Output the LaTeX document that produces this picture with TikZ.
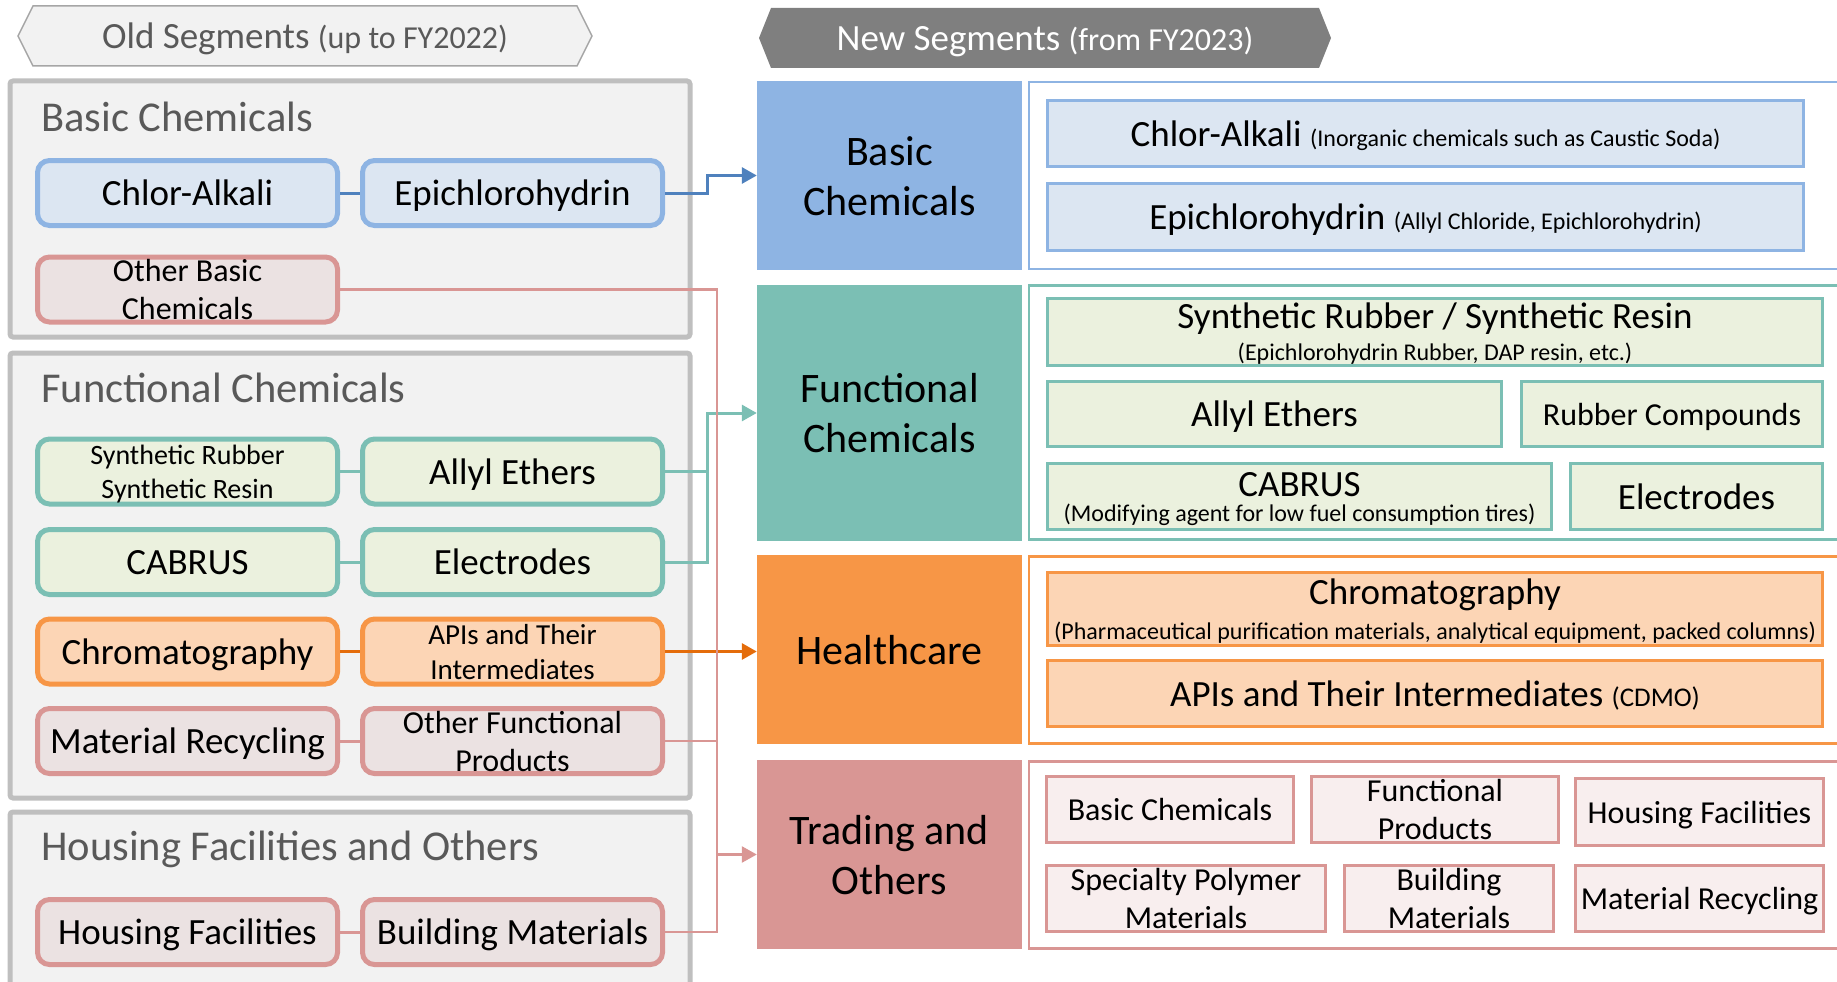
\documentclass[tikz,border=0pt]{standalone}
\usepackage{fontspec}
\setmainfont{Carlito}
\usetikzlibrary{arrows.meta}

\newcommand\fsz[2]{\fontsize{#1}{#2}\selectfont}

\definecolor{bluebd}{HTML}{8EB4E3}
\definecolor{bluefill}{HTML}{DCE6F2}
\definecolor{blueln}{HTML}{4F81BD}
\definecolor{tealbd}{HTML}{7BBFB4}
\definecolor{tealfill}{HTML}{EBF1DE}
\definecolor{tealln}{HTML}{7BBFB4}
\definecolor{orangebd}{HTML}{F79646}
\definecolor{orangefill}{HTML}{FCD5B5}
\definecolor{orangeln}{HTML}{E46C0A}
\definecolor{pinkbd}{HTML}{D99694}
\definecolor{pinkfill}{HTML}{EBE2E2}
\definecolor{pinklight}{HTML}{F8EEEE}
\definecolor{pinkln}{HTML}{D99694}
\definecolor{groupfill}{HTML}{F2F2F2}
\definecolor{groupbd}{HTML}{BFBFBF}
\definecolor{titlegray}{HTML}{595959}
\definecolor{bannerbd}{HTML}{A6A6A6}
\definecolor{newbanner}{HTML}{7F7F7F}

\begin{document}
\begin{tikzpicture}
	 [x=1pt,y=-1pt,
	  fs/.style 2 args={font=\fsz{#1}{#2},text height={0.7*#1pt},text depth=0pt},
	  fs2/.style 2 args={font=\fsz{#1}{#2},text height={0.7*#1pt+#2pt},text depth=0pt},
	  every node/.style={inner sep=0pt,align=center,fs={37}{44}},
	  grp/.style={draw=groupbd,fill=groupfill,line width=5pt,rounded corners=3pt,minimum width=680pt},
	  grptitle/.style={text=titlegray,fs={42.5}{50},anchor=base west},
	  oldbox/.style={draw=#1bd,fill=#1fill,line width=5pt,rounded corners=12pt,minimum width=300pt,minimum height=65pt},
	  seglabel/.style={fill=#1bd,minimum width=265pt,fs={42}{50}},
	  segframe/.style={draw=#1bd,fill=white,line width=2.5pt,minimum width=870pt},
	  newbox/.style={draw=#1bd,fill=#1fill,line width=3pt,minimum height=66pt},
	  conn/.style={draw=#1,line width=3pt},
	  arrowhd/.style={-{Triangle[length=15pt,width=16pt]}}]

	\clip (0,0) rectangle (1837,982);

	% headings
	\draw[draw=bannerbd,fill=groupfill,line width=1.5pt] (18,36) -- (33,6) -- (577,6) -- (592,36) -- (577,66) -- (33,66) -- cycle;
	\node (oldHead)[text=titlegray] at (305,36) {Old Segments {\fsz{32}{36}(up to FY2022)}};
	\fill[newbanner] (759,38) -- (771,8) -- (1319,8) -- (1331,38) -- (1319,68) -- (771,68) -- cycle;
	\node (newHead)[text=white] at (1045,38) {New Segments {\fsz{32}{36}(from FY2023)}};

	% old segments
	  \node (gBasic)[grp,minimum height=256pt] at (350,209) {};
	  \node (gFunc)[grp,minimum height=445pt] at (350,575.5) {};
	  \node (gHouse)[grp,minimum height=200pt] at (350,912) {};

	  \node (tBasicOld)[grptitle] at (41,131) {Basic Chemicals};
	  \node (tFuncOld)[grptitle] at (41,402) {Functional Chemicals};
	  \node (tHouseOld)[grptitle] at (41,860) {Housing Facilities and Others};

	  \node (oAlkali)[oldbox=blue] at (187.5,193) {Chlor-Alkali};
	  \node (oEpi)[oldbox=blue] at (512.5,193) {Epichlorohydrin};
	  \node (oOtherB)[oldbox=pink,fs2={32}{38}] at (187.5,289.5) {Other Basic\\Chemicals};
	  \node (oSynth)[oldbox=teal,fs2={28}{34}] at (187.5,471.5) {Synthetic Rubber\\Synthetic Resin};
	  \node (oAllyl)[oldbox=teal] at (512.5,471.5) {Allyl Ethers};
	  \node (oCabrus)[oldbox=teal] at (187.5,562) {CABRUS};
	  \node (oElec)[oldbox=teal] at (512.5,562) {Electrodes};
	  \node (oChrom)[oldbox=orange] at (187.5,651.5) {Chromatography};
	  \node (oApi)[oldbox=orange,fs2={29}{35}] at (512.5,651.5) {APIs and Their\\Intermediates};
	  \node (oRecyc)[oldbox=pink] at (187.5,741) {Material Recycling};
	  \node (oOtherF)[oldbox=pink,fs2={32}{38}] at (512.5,741) {Other Functional\\Products};
	  \node (oHouse)[oldbox=pink] at (187.5,932) {Housing Facilities};
	  \node (oBuild)[oldbox=pink] at (512.5,932) {Building Materials};

	\foreach \from/\to/\col in {oAlkali/oEpi/blueln,oSynth/oAllyl/tealln,oCabrus/oElec/tealln,oChrom/oApi/orangeln,oRecyc/oOtherF/pinkln,oHouse/oBuild/pinkln}
    \draw[conn=\col] (\from) -- (\to);

	% new segments
	  \node (nBasic)[seglabel=blue,fs2={42}{50},minimum height=189pt] at (889.5,175.5) {Basic\\Chemicals};
	  \node (nFunc)[seglabel=teal,fs2={42}{50},minimum height=256pt] at (889.5,413) {Functional\\Chemicals};
	  \node (nHealth)[seglabel=orange,minimum height=189pt] at (889.5,649.5) {Healthcare};
	  \node (nTrade)[seglabel=pink,fs2={42}{50},minimum height=189pt] at (889.5,854.5) {Trading and\\Others};

	  \node (fBasic)[segframe=blue,minimum height=187pt] at (1464,175.5) {};
	  \node (fFunc)[segframe=teal,minimum height=254pt] at (1464,412.5) {};
	  \node (fHealth)[segframe=orange,minimum height=187pt] at (1464,650) {};
	  \node (fTrade)[segframe=pink,minimum height=187pt] at (1464,855) {};

	  \node (cAlkali)[newbox=blue,minimum width=756pt] at (1425.5,133.5) {Chlor-Alkali {\fsz{24}{28}(Inorganic chemicals such as Caustic Soda)}};
	  \node (cEpi)[newbox=blue,minimum width=756pt,minimum height=67pt] at (1425.5,217) {Epichlorohydrin {\fsz{24}{28}(Allyl Chloride, Epichlorohydrin)}};

	  \node (cRubber)[newbox=teal,minimum width=775pt,minimum height=67pt,fs2={37}{32}] at (1435,332) {Synthetic Rubber / Synthetic Resin\\{\fsz{24}{28}(Epichlorohydrin Rubber, DAP resin, etc.)}};
	  \node (cAllyl)[newbox=teal,minimum width=454pt,minimum height=65pt] at (1274.5,414) {Allyl Ethers};
	  \node (cCompound)[newbox=teal,minimum width=301pt,minimum height=65pt,fs={32}{38}] at (1672,414) {Rubber Compounds};
	  \node (cCabrus)[newbox=teal,minimum width=504pt,fs2={37}{25}] at (1299.5,496.5) {CABRUS\\{\fsz{24}{28}(Modifying agent for low fuel consumption tires)}};
	  \node (cElec)[newbox=teal,minimum width=252pt] at (1696.5,496.5) {Electrodes};

	  \node (cChrom)[newbox=orange,minimum width=775pt,minimum height=73pt,fs2={37}{35}] at (1435,609) {Chromatography\\{\fsz{24}{28}(Pharmaceutical purification materials, analytical equipment, packed columns)}};
	  \node (cApi)[newbox=orange,minimum width=775pt] at (1435,693.5) {APIs and Their Intermediates {\fsz{27}{30}(CDMO)}};

	  \node (tBasic)[newbox=pink,fill=pinklight,minimum width=247pt,fs={32}{38}] at (1170,809.5) {Basic Chemicals};
	  \node (tFunc)[newbox=pink,fill=pinklight,minimum width=247pt,fs2={32}{38}] at (1435,809.5) {Functional\\Products};
	  \node (tHouse)[newbox=pink,fill=pinklight,minimum width=248pt,minimum height=67pt,fs={32}{38}] at (1699.5,812) {Housing Facilities};
	  \node (tSpec)[newbox=pink,fill=pinklight,minimum width=279pt,fs2={32}{38}] at (1186,898.5) {Specialty Polymer\\Materials};
	  \node (tBuild)[newbox=pink,fill=pinklight,minimum width=209pt,fs2={32}{38}] at (1449,898.5) {Building\\Materials};
	  \node (tRecyc)[newbox=pink,fill=pinklight,minimum width=248pt,fs={32}{38}] at (1699.5,898.5) {Material Recycling};

	% old -> new
	\coordinate (jBasic) at (707,175.5);
	\coordinate (jFunc) at (707,413);
	\coordinate (jTrade) at (717,854.5);

	\draw[conn=blueln,arrowhd] (oEpi.east) -| (jBasic) -- (nBasic.west);
	\draw[conn=tealln] (oAllyl.east) -- (oAllyl.east -| jFunc);
	\draw[conn=tealln,arrowhd] (oElec.east) -| (jFunc) -- (nFunc.west);
	\draw[conn=orangeln,arrowhd] (oApi.east) -- (oApi.east -| nHealth.west);
	\draw[conn=pinkln,line width=2.5pt] (oOtherB.east) -| (jTrade);
	\draw[conn=pinkln,line width=2.5pt] (oBuild.east) -| (jTrade);
	\draw[conn=pinkln,line width=2.5pt] (oOtherF.east) -- (oOtherF.east -| jTrade);
	\draw[conn=pinkln,line width=2.5pt,arrowhd] (jTrade) -- (nTrade.west);

\end{tikzpicture}
\end{document}
